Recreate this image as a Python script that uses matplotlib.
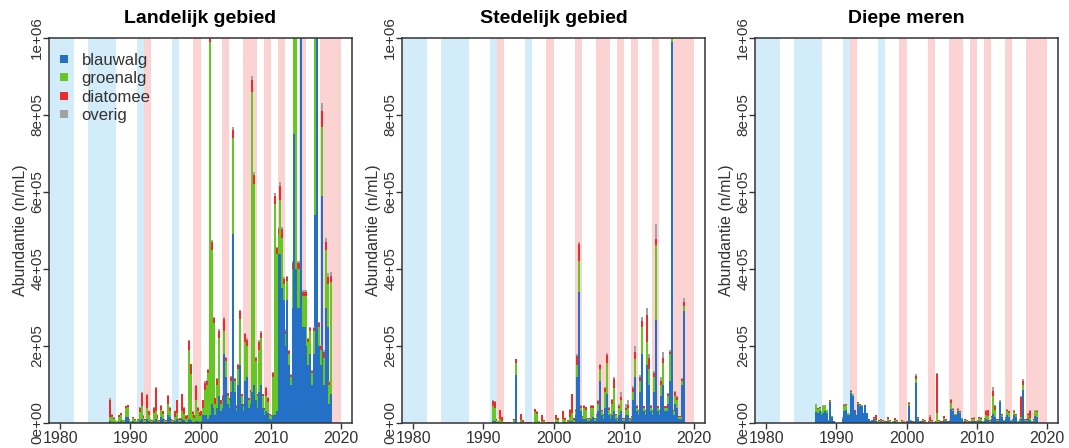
import numpy as np
import matplotlib.pyplot as plt
from matplotlib.lines import Line2D

plt.rcParams["font.family"] = ["Liberation Sans", "DejaVu Sans"]

# abundance per quarter, in units of 1e4 n/mL, one row per year (Q1..Q4)
SCALE = 1e4

land_start = 1987
land_blauwalg = [
    0.5, 0.3, 0.2, 0.1,  # 1987
    0.1, 0.3, 0.5, 0.1,
    0.2, 1.5, 1.5, 0.3,
    0.1, 0.5, 0.3, 0.1,  # 1990
    0.2, 0.8, 1.0, 0.3,
    0.2, 1.0, 0.5, 0.2,
    0.2, 0.5, 1.0, 0.3,
    0.2, 1.5, 1.0, 0.3,
    0.2, 2.0, 1.5, 0.3,  # 1995
    0.2, 0.5, 1.0, 0.3,
    0.3, 1.0, 0.8, 0.3,
    0.3, 1.0, 0.8, 0.3,
    0.3, 0.5, 0.5, 0.3,
    0.5, 2.0, 2.0, 2.0,  # 2000
    1.0, 2.0, 5.0, 4.0,
    2.0, 4.0, 7.0, 3.0,
    4.0, 18.0, 12.0, 5.0,
    4.0, 8.0, 49.0, 8.0,
    3.0, 10.0, 15.0, 5.0,  # 2005
    3.0, 11.0, 12.0, 4.0,
    5.0, 8.0, 10.0, 6.0,
    4.0, 8.0, 10.0, 4.0,
    2.0, 3.0, 2.5, 1.0,
    0.8, 2.0, 2.0, 3.0,  # 2010
    44.0, 44.0, 35.0, 32.0,
    20.0, 32.0, 15.0, 10.0,
    30.0, 75.0, 40.0, 30.0,
    30.0, 100.0, 25.0, 25.0,
    20.0, 15.0, 18.0, 10.0,  # 2015
    18.0, 54.0, 100.0, 20.0,
    15.0, 59.0, 10.0, 30.0,
    25.0, 5.0, 7.6, 0.0,
]
land_groenalg = [
    1.0, 1.2, 0.8, 0.3,  # 1987
    0.3, 1.2, 1.5, 0.4,
    0.5, 2.5, 2.6, 0.6,
    0.3, 0.8, 0.6, 0.3,  # 1990
    0.6, 2.0, 3.5, 1.0,
    0.5, 3.0, 1.5, 0.5,
    0.4, 2.0, 2.0, 1.0,
    0.4, 2.0, 1.3, 0.5,
    0.4, 3.0, 1.5, 0.5,  # 1995
    0.3, 1.0, 1.5, 0.5,
    0.5, 2.0, 1.5, 0.8,
    1.0, 18.0, 12.0, 2.0,
    1.0, 5.5, 2.5, 1.5,
    1.5, 2.0, 6.5, 8.0,  # 2000
    12.0, 97.0, 40.0, 22.0,
    3.0, 6.0, 15.0, 2.0,
    2.0, 6.0, 4.0, 2.0,
    2.0, 3.0, 25.0, 3.0,
    1.0, 4.0, 12.0, 2.0,  # 2005
    1.5, 10.0, 8.0, 2.0,
    3.0, 78.0, 52.0, 10.0,
    3.0, 11.0, 12.0, 3.0,
    1.5, 4.0, 3.0, 1.0,
    1.0, 10.0, 55.0, 41.0,  # 2010
    5.0, 14.0, 13.0, 4.0,
    3.0, 5.0, 3.0, 2.0,
    10.0, 25.0, 60.0, 10.0,
    10.0, 0.0, 8.0, 8.0,
    13.0, 6.0, 6.0, 3.0,  # 2015
    6.0, 46.0, 0.0, 5.0,
    4.0, 18.0, 7.0, 15.0,
    11.0, 5.0, 29.0, 0.0,
]
land_diatomee = [
    4.5, 0.6, 0.4, 0.2,  # 1987
    0.2, 0.6, 0.5, 0.2,
    0.2, 0.4, 0.5, 0.2,
    0.1, 0.3, 0.2, 0.1,  # 1990
    0.3, 1.2, 3.3, 0.6,
    0.3, 3.4, 1.0, 0.3,
    0.3, 1.5, 6.2, 0.8,
    0.3, 1.0, 0.8, 0.3,
    0.3, 2.0, 1.0, 0.3,  # 1995
    0.3, 1.5, 3.4, 0.3,
    0.5, 4.5, 1.7, 0.8,
    0.7, 2.2, 2.4, 0.6,
    0.7, 3.5, 1.0, 1.0,
    1.0, 2.0, 2.0, 1.0,  # 2000
    0.8, 0.8, 2.0, 1.2,
    1.5, 1.5, 2.0, 1.0,
    1.0, 3.0, 1.0, 0.7,
    0.5, 1.0, 2.0, 0.5,
    0.5, 1.0, 2.0, 0.5,  # 2005
    0.4, 2.0, 1.5, 0.5,
    0.5, 3.0, 2.5, 1.0,
    0.5, 2.0, 1.5, 0.5,
    0.5, 2.0, 1.0, 0.3,
    0.2, 1.0, 2.0, 1.5,  # 2010
    1.5, 3.5, 2.5, 1.5,
    1.0, 1.0, 0.7, 0.5,
    1.5, 0.0, 0.0, 1.5,
    1.5, 0.0, 1.0, 1.0,
    1.0, 0.7, 0.7, 0.5,  # 2015
    0.7, 0.0, 0.0, 1.0,
    1.0, 4.0, 1.5, 2.0,
    2.0, 0.7, 1.5, 0.0,
]
land_overig = [
    0.5, 0.2, 0.1, 0.1,  # 1987
    0.0, 0.1, 0.1, 0.0,
    0.0, 0.1, 0.1, 0.0,
    0.0, 0.0, 0.0, 0.0,  # 1990
    0.0, 0.1, 0.2, 0.1,
    0.0, 0.2, 0.1, 0.0,
    0.0, 0.1, 0.2, 0.1,
    0.0, 0.1, 0.1, 0.0,
    0.0, 0.2, 0.1, 0.0,  # 1995
    0.0, 0.1, 0.1, 0.0,
    0.0, 0.1, 0.1, 0.1,
    0.0, 0.3, 0.2, 0.1,
    0.0, 0.3, 0.1, 0.1,
    0.1, 0.1, 0.3, 0.2,  # 2000
    0.2, 0.2, 0.5, 0.4,
    0.1, 0.2, 0.5, 0.1,
    0.2, 0.6, 0.2, 0.1,
    0.1, 0.2, 1.0, 0.2,
    0.1, 0.2, 0.3, 0.1,  # 2005
    0.1, 0.5, 0.5, 0.1,
    0.1, 1.0, 0.8, 0.2,
    0.1, 0.5, 0.5, 0.1,
    0.0, 0.4, 0.3, 0.0,
    0.0, 0.2, 0.7, 0.3,  # 2010
    0.5, 1.2, 0.5, 0.5,
    0.3, 0.3, 0.2, 0.1,
    0.5, 0.0, 0.0, 0.5,
    0.5, 0.0, 0.5, 0.5,
    0.5, 0.3, 0.3, 0.2,  # 2015
    0.3, 0.0, 0.0, 0.3,
    0.3, 2.0, 0.5, 1.0,
    1.0, 0.3, 1.0, 0.0,
]

sted_start = 1991
sted_blauwalg = [
    0.0, 0.5, 0.5, 0.2,  # 1991
    0.1, 0.2, 0.1, 0.0,
    0.0, 0.0, 0.0, 0.0,
    0.0, 0.3, 12.5, 0.0,
    0.0, 0.2, 0.1, 0.0,  # 1995
    0.0, 0.0, 0.0, 0.0,
    0.0, 0.3, 0.3, 0.1,
    0.0, 0.1, 0.1, 0.0,
    0.0, 0.0, 0.0, 0.0,
    0.0, 0.2, 0.2, 0.0,  # 2000
    0.0, 0.3, 0.2, 0.0,
    0.2, 0.5, 0.5, 0.3,
    2.0, 12.0, 34.0, 3.0,
    1.0, 1.0, 1.0, 0.5,
    0.5, 1.0, 1.5, 0.5,  # 2005
    1.0, 3.0, 11.0, 2.0,
    1.0, 4.0, 7.6, 2.0,
    1.0, 2.0, 3.0, 1.0,
    0.5, 2.0, 3.0, 0.5,
    0.5, 2.0, 2.0, 0.5,  # 2010
    1.0, 6.0, 12.0, 3.0,
    2.0, 8.0, 18.0, 3.0,
    2.0, 15.0, 10.0, 3.0,
    2.0, 8.0, 26.7, 3.0,
    2.0, 7.0, 10.0, 3.0,  # 2015
    3.0, 5.0, 11.0, 99.0,
    2.0, 5.0, 4.0, 1.0,
    1.0, 10.0, 29.0, 0.0,
]
sted_groenalg = [
    0.0, 4.0, 3.5, 0.5,  # 1991
    0.3, 0.8, 0.5, 0.1,
    0.1, 0.1, 0.1, 0.1,
    0.0, 0.5, 3.0, 0.0,
    0.0, 0.5, 0.2, 0.0,  # 1995
    0.1, 0.1, 0.1, 0.1,
    0.0, 2.5, 2.0, 0.3,
    0.0, 0.5, 0.3, 0.0,
    0.1, 0.1, 0.1, 0.1,
    0.0, 0.8, 0.5, 0.0,  # 2000
    0.0, 0.8, 0.5, 0.1,
    0.3, 1.0, 2.0, 0.5,
    1.0, 3.0, 8.0, 1.0,
    0.5, 3.0, 2.5, 0.5,
    0.5, 3.0, 2.5, 0.5,  # 2005
    1.0, 2.0, 3.0, 1.0,
    1.0, 4.0, 8.0, 1.5,
    1.0, 3.0, 6.0, 1.0,
    0.5, 2.0, 3.0, 0.5,
    0.5, 1.5, 2.0, 0.5,  # 2010
    0.5, 2.0, 4.5, 1.0,
    1.0, 3.0, 7.0, 1.0,
    1.0, 6.0, 4.0, 1.0,
    1.0, 4.0, 19.5, 1.0,
    1.0, 3.0, 5.5, 1.0,  # 2015
    1.0, 2.0, 7.0, 1.0,
    1.0, 2.0, 2.0, 0.5,
    0.5, 1.0, 1.5, 0.0,
]
sted_diatomee = [
    0.0, 1.3, 1.5, 0.3,  # 1991
    0.2, 2.3, 1.0, 0.1,
    0.1, 0.1, 0.1, 0.1,
    0.0, 0.3, 1.0, 0.0,
    0.0, 1.7, 0.5, 0.0,  # 1995
    0.1, 0.1, 0.1, 0.1,
    0.0, 0.8, 0.6, 0.2,
    0.0, 1.4, 0.5, 0.0,
    0.1, 0.1, 0.1, 0.1,
    0.0, 1.0, 0.5, 0.0,  # 2000
    0.0, 1.9, 0.5, 0.1,
    0.3, 2.0, 5.0, 0.5,
    0.5, 2.5, 4.5, 0.5,
    0.2, 0.5, 0.6, 0.2,
    0.2, 0.5, 0.5, 0.2,  # 2005
    0.3, 0.7, 1.0, 0.3,
    0.3, 1.0, 2.0, 0.5,
    0.3, 1.0, 2.5, 0.3,
    0.2, 0.5, 0.8, 0.2,
    0.2, 0.5, 0.6, 0.2,  # 2010
    0.2, 1.0, 2.0, 0.5,
    0.3, 1.0, 1.5, 0.3,
    0.3, 7.0, 3.0, 0.5,
    0.3, 1.0, 1.5, 0.3,
    0.3, 1.0, 1.5, 0.3,  # 2015
    0.3, 0.5, 0.5, 0.0,
    0.3, 1.0, 0.8, 0.2,
    0.2, 0.5, 1.0, 0.0,
]
sted_overig = [
    0.0, 0.2, 0.2, 0.0,  # 1991
    0.0, 0.1, 0.0, 0.0,
    0.0, 0.0, 0.0, 0.0,
    0.0, 0.0, 0.2, 0.0,
    0.0, 0.0, 0.0, 0.0,  # 1995
    0.0, 0.0, 0.0, 0.0,
    0.0, 0.1, 0.1, 0.0,
    0.0, 0.0, 0.0, 0.0,
    0.0, 0.0, 0.0, 0.0,
    0.0, 0.0, 0.0, 0.0,  # 2000
    0.0, 0.0, 0.0, 0.0,
    0.0, 0.1, 0.1, 0.0,
    0.1, 0.5, 0.5, 0.1,
    0.0, 0.1, 0.1, 0.0,
    0.0, 0.1, 0.1, 0.0,  # 2005
    0.1, 0.3, 0.3, 0.1,
    0.1, 0.3, 0.5, 0.1,
    0.1, 0.3, 0.5, 0.1,
    0.1, 0.5, 1.2, 0.1,
    0.1, 1.0, 1.4, 0.1,  # 2010
    0.1, 0.5, 1.5, 0.2,
    0.1, 0.5, 1.0, 0.2,
    0.1, 2.0, 1.0, 0.2,
    0.1, 0.5, 4.0, 0.2,
    0.1, 1.0, 1.5, 0.2,  # 2015
    0.1, 0.3, 0.5, 0.0,
    0.1, 0.3, 0.3, 0.1,
    0.1, 0.3, 1.0, 0.0,
]

diep_start = 1987
diep_blauwalg = [
    2.9, 2.5, 3.0, 2.0,  # 1987
    2.5, 3.0, 2.5, 0.5,
    5.5, 1.5, 0.5, 0.1,
    0.1, 0.1, 0.1, 1.0,  # 1990
    3.0, 3.3, 2.0, 2.0,
    7.8, 7.0, 3.0, 2.0,
    5.0, 4.5, 4.3, 2.5,
    4.3, 2.5, 1.0, 0.5,
    0.5, 1.0, 0.5, 0.3,  # 1995
    0.3, 0.5, 0.3, 0.2,
    0.2, 0.5, 0.3, 0.1,
    0.2, 0.5, 0.3, 0.1,
    0.1, 0.3, 0.2, 0.1,
    0.2, 4.3, 0.5, 0.2,  # 2000
    0.3, 10.5, 1.0, 0.3,
    0.2, 0.4, 0.3, 0.1,
    0.2, 0.3, 0.3, 0.1,
    0.2, 0.2, 0.3, 0.2,
    0.2, 0.8, 0.5, 0.2,  # 2005
    0.5, 3.7, 3.0, 2.0,
    2.0, 3.0, 2.5, 1.0,
    0.3, 0.5, 0.3, 0.2,
    0.2, 0.5, 0.5, 0.2,
    0.3, 0.6, 0.5, 0.3,  # 2010
    0.5, 1.0, 0.8, 0.3,
    1.0, 2.4, 1.5, 0.5,
    0.5, 5.5, 1.5, 0.5,
    1.0, 2.0, 1.5, 0.5,
    0.5, 2.0, 1.5, 0.3,  # 2015
    0.5, 1.0, 8.5, 0.5,
    0.5, 1.2, 0.8, 0.3,
    0.5, 1.8, 1.5, 0.0,
]
diep_groenalg = [
    1.8, 1.2, 1.0, 1.0,  # 1987
    1.8, 1.4, 0.8, 0.2,
    0.3, 0.2, 0.1, 0.0,
    0.0, 0.0, 0.0, 0.5,  # 1990
    1.5, 1.5, 0.5, 0.3,
    0.3, 0.3, 0.2, 0.2,
    0.3, 0.3, 0.3, 0.1,
    0.2, 0.1, 0.1, 0.0,
    0.1, 0.2, 0.2, 0.1,  # 1995
    0.2, 0.3, 0.2, 0.1,
    0.1, 0.5, 0.3, 0.1,
    0.2, 0.3, 0.2, 0.1,
    0.1, 0.3, 0.2, 0.1,
    0.1, 0.6, 0.2, 0.1,  # 2000
    0.1, 0.8, 0.3, 0.1,
    0.1, 0.3, 0.2, 0.1,
    0.1, 0.2, 0.2, 0.1,
    0.1, 2.4, 0.3, 0.1,
    0.1, 0.5, 0.3, 0.1,  # 2005
    0.3, 1.5, 0.5, 0.3,
    0.3, 0.5, 0.4, 0.2,
    0.2, 0.3, 0.3, 0.1,
    0.2, 0.5, 0.6, 0.1,
    0.3, 0.6, 0.6, 0.2,  # 2010
    0.5, 1.2, 1.0, 0.3,
    0.5, 4.5, 2.0, 0.3,
    0.3, 0.2, 0.5, 0.2,
    0.3, 1.0, 1.0, 0.3,
    0.3, 0.8, 0.5, 0.2,  # 2015
    0.3, 0.5, 1.5, 0.3,
    0.3, 0.8, 0.6, 0.2,
    0.3, 1.2, 1.3, 0.0,
]
diep_diatomee = [
    0.1, 0.1, 0.1, 0.1,  # 1987
    0.2, 0.1, 0.1, 0.0,
    0.1, 0.0, 0.0, 0.0,
    0.0, 0.0, 0.0, 0.0,  # 1990
    0.2, 0.1, 0.1, 0.0,
    0.1, 0.1, 0.1, 0.0,
    0.1, 0.1, 0.1, 0.0,
    0.1, 0.0, 0.0, 0.0,
    0.1, 0.4, 1.3, 0.2,  # 1995
    0.3, 0.3, 0.2, 0.1,
    0.1, 0.5, 0.3, 0.1,
    0.2, 0.5, 0.2, 0.1,
    0.1, 0.3, 0.2, 0.1,
    0.1, 0.4, 0.2, 0.1,  # 2000
    0.1, 1.0, 0.2, 0.1,
    0.1, 0.3, 0.2, 0.1,
    0.2, 1.0, 0.3, 0.1,
    0.1, 10.0, 0.3, 0.1,
    0.1, 0.4, 0.3, 0.1,  # 2005
    0.1, 0.8, 0.2, 0.1,
    0.1, 0.2, 0.2, 0.1,
    0.1, 0.2, 0.2, 0.1,
    0.1, 0.3, 0.3, 0.1,
    0.1, 0.3, 0.3, 0.1,  # 2010
    0.2, 1.0, 1.5, 0.2,
    0.3, 1.5, 0.8, 0.2,
    0.2, 0.1, 0.3, 0.1,
    0.2, 0.5, 0.5, 0.1,
    0.2, 0.4, 0.3, 0.1,  # 2015
    0.2, 5.3, 1.0, 0.2,
    0.2, 0.4, 1.7, 0.1,
    0.2, 0.2, 0.3, 0.0,
]
diep_overig = [
    0.1, 0.1, 0.1, 0.0,  # 1987
    0.1, 0.1, 0.0, 0.0,
    0.0, 0.0, 0.0, 0.0,
    0.0, 0.0, 0.0, 0.0,  # 1990
    0.2, 0.1, 0.0, 0.0,
    0.3, 0.2, 0.1, 0.0,
    0.1, 0.1, 0.1, 0.0,
    0.0, 0.0, 0.0, 0.0,
    0.0, 0.0, 0.0, 0.0,  # 1995
    0.0, 0.0, 0.0, 0.0,
    0.0, 0.0, 0.0, 0.0,
    0.0, 0.0, 0.0, 0.0,
    0.0, 0.0, 0.0, 0.0,
    0.0, 0.2, 0.0, 0.0,  # 2000
    0.0, 0.5, 0.0, 0.0,
    0.0, 0.1, 0.0, 0.0,
    0.0, 0.5, 0.0, 0.0,
    0.0, 0.4, 0.0, 0.0,
    0.0, 0.1, 0.0, 0.0,  # 2005
    0.0, 0.3, 0.1, 0.0,
    0.0, 0.1, 0.1, 0.0,
    0.0, 0.0, 0.0, 0.0,
    0.0, 0.0, 0.1, 0.0,
    0.0, 0.1, 0.2, 0.0,  # 2010
    0.0, 0.3, 0.2, 0.0,
    0.1, 1.0, 0.3, 0.1,
    0.0, 0.2, 0.1, 0.0,
    0.1, 0.2, 0.2, 0.0,
    0.0, 0.1, 0.1, 0.0,  # 2015
    0.0, 0.1, 0.5, 0.1,
    0.1, 0.1, 0.2, 0.0,
    0.0, 0.1, 0.2, 0.0,
]

# background year bands (blue and red periods)
blue_years = [(1978, 1982), (1984, 1988), (1991, 1992), (1996, 1997)]
red_years = [(1992, 1993), (1999, 2000), (2003, 2004), (2006, 2008),
             (2009, 2010), (2011, 2012), (2014, 2015), (2017, 2020)]

groups = ['blauwalg', 'groenalg', 'diatomee', 'overig']
colours = ['#2370c6', '#66c723', '#ee2b2b', '#a3a3a3']
titles = ['Landelijk gebied', 'Stedelijk gebied', 'Diepe meren']

panels = [
    (land_start, [land_blauwalg, land_groenalg, land_diatomee, land_overig]),
    (sted_start, [sted_blauwalg, sted_groenalg, sted_diatomee, sted_overig]),
    (diep_start, [diep_blauwalg, diep_groenalg, diep_diatomee, diep_overig]),
]


def plot_panel(ax, start, series, title):
    for a, b in blue_years:
        ax.axvspan(a, b, color='#d2ecfa', lw=0, zorder=0)
    for a, b in red_years:
        ax.axvspan(a, b, color='#fcd3d3', lw=0, zorder=0)
    n = len(series[0])
    x = start + 0.125 + 0.25 * np.arange(n)
    bottom = np.zeros(n)
    for vals, col in zip(series, colours):
        v = np.array(vals) * SCALE
        ax.bar(x, v, width=0.26, bottom=bottom, color=col, lw=0, zorder=2)
        bottom += v
    ax.set_xlim(1978.4, 2021.6)
    ax.set_ylim(0, 1e6)
    ax.set_xticks([1980, 1990, 2000, 2010, 2020])
    yt = np.arange(0, 1.01e6, 2e5)
    ax.set_yticks(yt)
    ax.set_yticklabels(['0e+00', '2e+05', '4e+05', '6e+05', '8e+05', '1e+06'],
                       rotation=90, va='center')
    ax.tick_params(direction='out', length=4, width=1, labelsize=11.5,
                   colors='#333333', labelcolor='#333333')
    ax.tick_params(axis='y', pad=-0.5, labelsize=11)
    ax.tick_params(axis='x', pad=1.5)
    for s in ax.spines.values():
        s.set_linewidth(1.1)
        s.set_color('#333333')
        s.set_zorder(5)
    ax.set_ylabel('Abundantie (n/mL)', fontsize=11.5, color='#333333')
    ax.yaxis.set_label_coords(-0.068, 0.5)
    ax.set_title(title, fontsize=14, fontweight='bold', pad=11)


def main():
    fig = plt.figure(figsize=(10.69, 4.48), dpi=100)
    lefts = [49, 402, 755]
    axes = []
    for left, (start, series), title in zip(lefts, panels, titles):
        ax = fig.add_axes([left / 1069, 25 / 448, 303 / 1069, 385 / 448])
        plot_panel(ax, start, series, title)
        axes.append(ax)
    handles = [Line2D([], [], ls='', marker='s', ms=6, mew=0, color=c)
               for c in colours]
    axes[0].legend(handles, groups, loc='upper left', frameon=False,
                   fontsize=12, handletextpad=0.6, handlelength=0.9,
                   labelspacing=0.2, borderaxespad=0.5,
                   bbox_to_anchor=(-0.025, 1.0), labelcolor='#333333')
    fig.savefig('out.png', dpi=100)


if __name__ == "__main__":
    main()
